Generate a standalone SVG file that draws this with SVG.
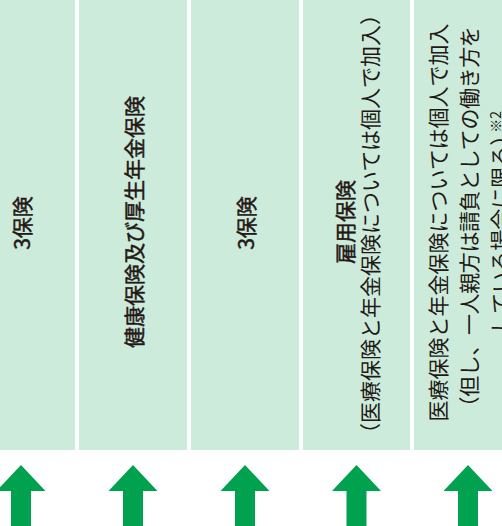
<svg xmlns="http://www.w3.org/2000/svg" width="502" height="526" viewBox="0 0 502 526">
  <style>
    .col { fill: #cdebdb; }
    .t { font-family: "Noto Sans CJK JP", "Noto Sans", sans-serif; font-size: 21px; fill: #231815; dominant-baseline: central; }
    .m { text-anchor: middle; }
    .s { text-anchor: start; }
    .b { stroke: #231815; stroke-width: 0.45px; }
    .note { font-size: 14px; }
    .arrow { fill: #00a14f; }
  </style>
  <defs>
    <path id="arw" d="M0,465 L24.5,491 L10,491 L10,526 L-10,526 L-10,491 L-24.5,491 Z"/>
  </defs>
  <rect width="502" height="526" fill="#ffffff"/>

  <g id="node1">
    <rect class="col" x="-33" y="0" width="108" height="450"/>
    <text class="t m b" transform="translate(21,223) rotate(-90)">3保険</text>
  </g>
  <g id="node2">
    <rect class="col" x="79" y="0" width="108" height="450"/>
    <text class="t m b" transform="translate(133,222) rotate(-90)">健康保険及び厚生年金保険</text>
  </g>
  <g id="node3">
    <rect class="col" x="191" y="0" width="108" height="450"/>
    <text class="t m b" transform="translate(244.5,223) rotate(-90)">3保険</text>
  </g>
  <g id="node4">
    <rect class="col" x="303" y="0" width="107" height="450"/>
    <text class="t m b" transform="translate(343.5,222) rotate(-90)">雇用保険</text>
    <text class="t m" transform="translate(368.5,224) rotate(-90)">（医療保険と年金保険については個人で加入）</text>
  </g>
  <g id="node5">
    <rect class="col" x="414" y="0" width="108" height="450"/>
    <text class="t m" transform="translate(437,222.5) rotate(-90)">医療保険と年金保険については個人で加入</text>
    <text class="t m" transform="translate(468,222) rotate(-90)" letter-spacing="-0.4">（但し、一人親方は請負としての働き方を</text>
    <text class="t s" transform="translate(499,334) rotate(-90)">している場合に限る）<tspan class="note" dx="-8" dy="-4.5">※2</tspan></text>
  </g>

  <g id="connectors" class="arrow">
    <use href="#arw" x="21"/>
    <use href="#arw" x="133"/>
    <use href="#arw" x="245"/>
    <use href="#arw" x="356.5"/>
    <use href="#arw" x="468"/>
  </g>
</svg>
